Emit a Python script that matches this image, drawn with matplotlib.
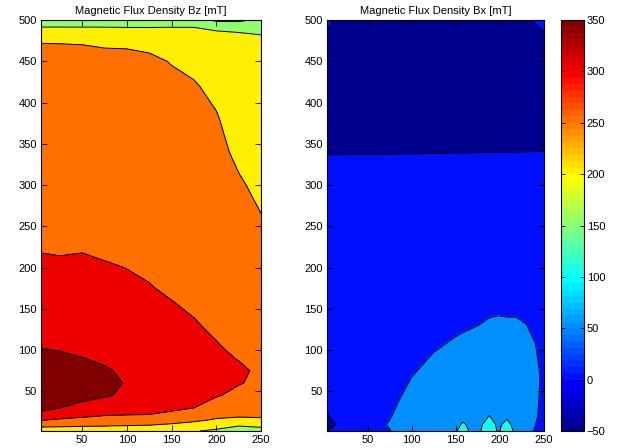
import numpy as np
import matplotlib
matplotlib.use("Agg")
import matplotlib.pyplot as plt
from matplotlib.colors import ListedColormap, Normalize
from matplotlib.cm import ScalarMappable

plt.rcParams['font.family'] = ['Liberation Sans', 'DejaVu Sans']

# ---------------- data ----------------
titles = ["Magnetic Flux Density Bz [mT]", "Magnetic Flux Density Bx [mT]"]
contour_levels = [-50, 0, 50, 100, 150, 200, 250, 300, 350, 400]
cbar_ticks = [-50, 0, 50, 100, 150, 200, 250, 300, 350]
x_ticks = [50, 100, 150, 200, 250]
y_ticks = [50, 100, 150, 200, 250, 300, 350, 400, 450, 500]

# Bz field: grid positions and values (rows = bz_y, columns = bz_x)
bz_x = [4, 25, 50, 75, 100, 125, 150, 175, 200, 225, 250]
bz_y = [2, 8, 15, 22, 30, 45, 60, 75, 90, 105, 125, 150, 175, 200, 225,
        260, 300, 340, 380, 420, 450, 470, 482, 492, 500]
bz_cols = [
    [230, 255, 302, 340, 362, 368, 372, 368, 360, 348, 335, 322, 312, 305, 298, 290, 282, 275, 268, 262, 257, 253, 232, 198, 175],
    [228, 254, 290, 330, 350, 366, 370, 366, 357, 345, 333, 321, 311, 304, 297, 289, 281, 274, 267, 261, 256, 252, 232, 198, 175],
    [225, 252, 285, 315, 340, 360, 364, 360, 351, 340, 328, 317, 310, 305, 298, 287, 279, 272, 266, 260, 255, 250, 230, 198, 176],
    [222, 250, 280, 305, 330, 353, 358, 355, 343, 333, 322, 312, 306, 303, 294, 285, 277, 270, 264, 258, 254, 249, 228, 198, 176],
    [220, 248, 276, 302, 322, 345, 348, 342, 332, 325, 316, 309, 305, 299.6, 292, 284, 276, 269, 263, 257, 253, 249, 227, 197, 176],
    [218, 246, 272, 300, 315, 330, 334, 330, 324, 318, 311, 305, 301.5, 296, 289, 282, 274, 268, 262, 257, 254, 246, 225, 197, 177],
    [212, 240, 265, 292, 308, 320, 323, 321, 317, 313, 308, 303, 296, 291, 286, 279, 272, 266, 260, 255, 249, 240, 222, 198, 178],
    [203, 232, 256, 282, 300, 312, 316, 315, 313, 310, 304, 297, 291, 287, 283, 277, 271, 264, 258, 252, 244, 236, 220, 198, 178],
    [192, 215, 245, 262, 278, 303, 309, 308, 305, 302, 296, 289, 283, 278, 273, 267, 262, 257, 252, 244, 236, 228, 214, 185, 140],
    [178, 200, 240, 258, 270, 290, 302, 304, 299, 293, 285, 278, 272, 267, 263, 258, 253, 245, 238, 232, 226, 220, 208, 180, 140],
    [185, 205, 245, 256, 265, 278, 293, 296, 286, 281, 276, 271, 266, 262, 258, 251, 244, 238, 232, 226, 220, 215, 200, 185, 160],
]

# Bx field: grid positions and values (rows = bx_y, columns = bx_x)
bx_x = [4, 15, 30, 50, 75, 100, 125, 150, 158, 166, 178, 188, 198, 208, 218, 230, 240, 250]
bx_y = [2, 10, 20, 40, 70, 100, 130, 160, 200, 260, 320, 350, 400, 450, 485, 500]
bx_low_cols = [
    [-1, -12, -3, 8, 18, 22, 25, 26],
    [12, 1, 10, 15, 22, 25, 27, 28],
    [25, 22, 22, 24, 27, 28, 29, 29],
    [38, 38, 36, 33, 31, 31, 31, 30],
    [49, 52, 48, 42, 38, 35, 33, 31],
    [72, 70, 67, 60, 49, 40, 36, 33],
    [82, 80, 77, 70, 60, 49, 40, 35],
    [96, 90, 85, 77, 67, 56, 45, 38],
    [118, 104, 90, 79, 69, 57, 47, 39],
    [97, 94, 89, 81, 71, 60, 48, 40],
    [99, 96, 91, 84, 74, 63, 50.5, 42],
    [125, 114, 100.5, 87, 77, 66, 53, 43],
    [96, 94, 90, 86, 78, 67, 55, 42],
    [118, 108, 95, 86, 78, 67, 54, 42],
    [92, 90, 88, 84, 76, 66, 54, 42],
    [75, 76, 78, 78, 72, 63, 50.5, 40],
    [44, 51, 57, 62, 64, 54, 40, 34],
    [30, 32, 33, 33, 38, 27, 28, 30],
]
bx_y200 = [27, 28, 28, 28, 28, 29, 30, 31, 31, 32, 32, 32, 32, 32, 31, 30, 29, 28]
bx_y260 = [16, 16, 16, 16, 16, 17, 17, 18, 18, 18, 18, 18, 18, 18, 18, 18, 18, 18]
bx_y320 = [5, 5, 5, 5, 5, 5, 5, 5, 5, 5, 5, 5, 5, 5, 5, 5, 5, 5]
bx_y350 = [-4.1, -4.0, -3.9, -3.8, -3.6, -3.4, -3.2, -3.0, -2.9, -2.9, -2.8, -2.7, -2.6, -2.6, -2.5, -2.4, -2.3, -2.3]
bx_y400 = [-18, -18, -18, -18, -18, -18, -18, -18, -18, -18, -18, -18, -18, -18, -18, -18, -18, -18]
bx_y450 = [-15, -20, -23, -25, -26, -26, -26, -26, -26, -26, -26, -26, -26, -25, -24, -22, -18, -14]
bx_y485 = [-2, -10, -16, -20, -22, -23, -23, -23, -23, -23, -23, -23, -22, -21, -19, -15, -9, -1]
bx_y500 = [12, -6, -14, -18, -20, -21, -21, -21, -21, -21, -21, -21, -20, -19, -16, -8, 4, 12]

# ---------------- assemble grids ----------------
BZ = np.array(bz_cols, dtype=float).T
BX = np.vstack([np.array(bx_low_cols, dtype=float).T,
                np.array([bx_y200, bx_y260, bx_y320, bx_y350,
                          bx_y400, bx_y450, bx_y485, bx_y500], dtype=float)])

# MATLAB-style jet(64)
def matlab_jet(m=64):
    n = int(np.ceil(m / 4))
    u = np.concatenate([np.arange(1, n + 1) / n, np.ones(n - 1), np.arange(n, 0, -1) / n])
    g = int(np.ceil(n / 2)) - (1 if m % 4 == 1 else 0) + np.arange(1, len(u) + 1)
    r = g + n
    b = g - n
    J = np.zeros((m, 3))
    for col, idx in ((0, r), (1, g), (2, b)):
        ok = (idx >= 1) & (idx <= m)
        J[idx[ok] - 1, col] = u[ok]
    return J

jet64 = matlab_jet(64)
cmin, cmax = -50, 350
region_colors = []
for lev in contour_levels[:-1]:
    k = int(np.floor((lev - cmin) / (cmax - cmin) * 64))
    k = min(max(k, 0), 63)
    region_colors.append(tuple(jet64[k]))

# ---------------- figure ----------------
W, H = 618, 448
fig = plt.figure(figsize=(W / 100, H / 100), dpi=100)
ax1 = fig.add_axes([41 / W, 17 / H, 220 / W, 411 / H])
ax2 = fig.add_axes([327 / W, 17 / H, 217 / W, 411 / H])
cax = fig.add_axes([561 / W, 17 / H, 23 / W, 411 / H])

for ax, xs, ys, Z, title in ((ax1, bz_x, bz_y, BZ, titles[0]),
                             (ax2, bx_x, bx_y, BX, titles[1])):
    X, Y = np.meshgrid(xs, ys)
    ax.contourf(X, Y, Z, levels=contour_levels, colors=region_colors)
    ax.contour(X, Y, Z, levels=contour_levels, colors='k', linewidths=0.7)
    ax.set_xlim(4, 250)
    ax.set_ylim(2, 500)
    ax.set_xticks(x_ticks)
    ax.set_yticks(y_ticks)
    ax.tick_params(direction='in', top=True, right=True, length=4, width=0.6,
                   labelsize=8, pad=3)
    for s in ax.spines.values():
        s.set_linewidth(0.8)
    ax.set_title(title, fontsize=8, pad=4)

sm = ScalarMappable(norm=Normalize(cmin, cmax), cmap=ListedColormap(jet64))
cb = fig.colorbar(sm, cax=cax, ticks=cbar_ticks)
cax.tick_params(direction='in', left=True, right=True, length=3, width=0.6,
                labelsize=8, pad=2)
cb.outline.set_linewidth(0.8)

fig.savefig("out.png", dpi=100)
